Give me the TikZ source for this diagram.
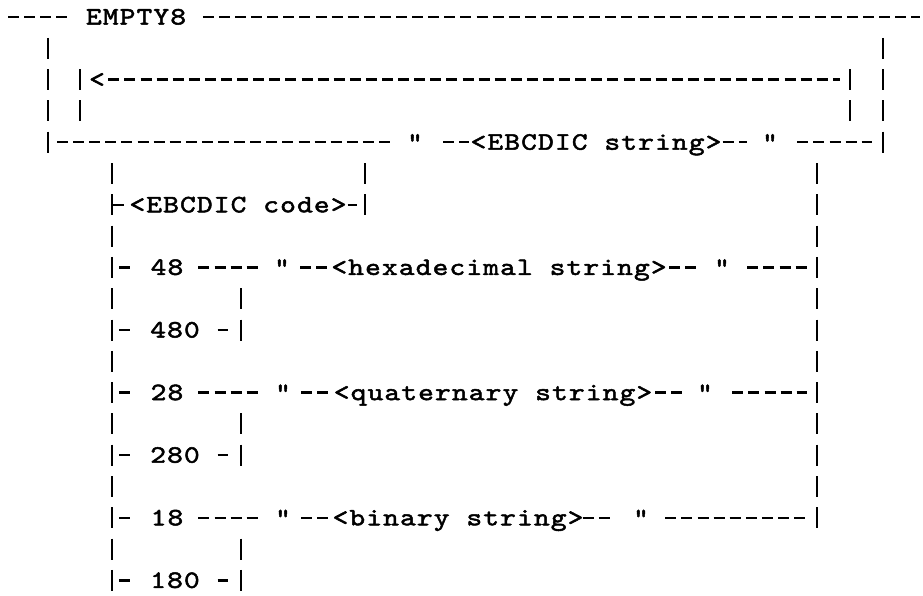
\documentclass[tikz,border=0pt]{standalone}
\usepackage{fontspec}
\newfontfamily\typer{lmmono10-regular.otf}[FakeStretch=1.2,LetterSpace=4.5,FakeBold=2]

\begin{document}
\begin{tikzpicture}[x=1pt,y=-31.3pt,font={\typer\fontsize{25pt}{25pt}\selectfont},
  every node/.style={inner sep=0pt,text height=15pt,text depth=0pt},
  chars/.style={minimum width=#1*16.2pt,
    execute at begin node={\hbox to 0pt\bgroup\hss},execute at end node={\hss\egroup}}]
  \useasboundingbox (0,-0.5431) rectangle (923,18.4665);
  \coordinate (tw)  at (8,0);   \coordinate (te)  at (920,0);
  \coordinate (a1)  at (48,1);  \coordinate (a4)  at (48,4);
  \coordinate (b2)  at (80,2);  \coordinate (b3)  at (80,3);
  \coordinate (c2)  at (850,2); \coordinate (c3)  at (850,3);
  \coordinate (d1)  at (883,1); \coordinate (d4)  at (883,4);
  \coordinate (e5)  at (365,5); \coordinate (e6)  at (365,6);
  \foreach \r in {5,6,8,10,12,14,16,18} \coordinate (m\r) at (112,\r);
  \foreach \r in {5,8,12,16} \coordinate (r\r) at (817,\r);
  \foreach \r in {9,10,13,14,17,18} \coordinate (s\r) at (241,\r);
  \node[chars=6]  (empty) at (136,0)   {EMPTY8};
  \node[chars=1]  (back)  at (97,2)    {<};
  \node[chars=1]  (q1)    at (415,4)   {"};
  \node[chars=15] (ebs)   at (596,4)   {<EBCDIC string>};
  \node[chars=1]  (q2)    at (770,4)   {"};
  \node[chars=13] (code)  at (238,6)   {<EBCDIC code>};
  \node[chars=2]  (n48)   at (167,8)   {48};
  \node[chars=1]  (q3)    at (282,8)   {"};
  \node[chars=20] (hex)   at (499,8)   {<hexadecimal string>};
  \node[chars=1]  (q4)    at (722,8)   {"};
  \node[chars=3]  (n480)  at (175,10)  {480};
  \node[chars=2]  (n28)   at (167,12)  {28};
  \node[chars=1]  (q5)    at (283,12)  {"};
  \node[chars=19] (quat)  at (493,12)  {<quaternary string>};
  \node[chars=1]  (q6)    at (705,12)  {"};
  \node[chars=3]  (n280)  at (175,14)  {280};
  \node[chars=2]  (n18)   at (167,16)  {18};
  \node[chars=1]  (q7)    at (283,16)  {"};
  \node[chars=15] (bin)   at (458,16)  {<binary string>};
  \node[chars=1]  (q8)    at (641,16)  {"};
  \node[chars=3]  (n180)  at (175,18)  {180};
\tikzset{bar/.style={line width=2.3pt,dash pattern=on 21pt off 10.3pt,shorten <=-10.5pt,shorten >=-10.5pt}}
\path
      (a1)  edge [bar] (a4)
      (b2)  edge [bar] (b3)
      (c2)  edge [bar] (c3)
      (d1)  edge [bar] (d4)
      (m5)  edge [bar] (m18)
      (e5)  edge [bar] (e6)
      (r5)  edge [bar] (r16);
\tikzset{bar/.append style={line width=1.4pt}}
\path
      (s9)  edge [bar] (s10)
      (s13) edge [bar] (s14)
      (s17) edge [bar] (s18);
\tikzset{rule/.style={line width=2.4pt,dash pattern=on 11pt off 5.1pt}}
\path
      (tw)    edge [rule,shorten >=19pt]                 (empty)
      (empty) edge [rule,shorten <=18pt]                 (te)
      (back)  edge [rule,shorten <=3pt,shorten >=10pt]   (c2)
      (a4)    edge [rule,shorten <=9pt,shorten >=17pt]   (q1)
      (q1)    edge [rule,shorten <=20pt,shorten >=5pt]   (ebs)
      (ebs)   edge [rule,shorten <=5pt,shorten >=15pt]   (q2)
      (q2)    edge [rule,shorten <=19pt,shorten >=11pt]  (d4)
      (m6)    edge [rule,shorten <=1pt,shorten >=6pt]    (code)
      (code)  edge [rule,shorten <=4pt,shorten >=8pt]    (e6);
\path
      (m8)    edge [rule,shorten <=7pt,shorten >=19pt]   (n48)
      (n48)   edge [rule,shorten <=15pt,shorten >=15pt]  (q3)
      (q3)    edge [rule,shorten <=10pt,shorten >=7pt]   (hex)
      (hex)   edge [rule,shorten <=8pt,shorten >=13pt]   (q4)
      (q4)    edge [rule,shorten <=17pt,shorten >=10pt]  (r8)
      (m10)   edge [rule,shorten <=7pt,shorten >=19pt]   (n480)
      (n480)  edge [rule,shorten <=18pt,shorten >=13pt]  (s10)
      (m12)   edge [rule,shorten <=7pt,shorten >=19pt]   (n28)
      (n28)   edge [rule,shorten <=15pt,shorten >=15pt]  (q5)
      (q5)    edge [rule,shorten <=10pt,shorten >=7pt]   (quat)
      (quat)  edge [rule,shorten <=8pt,shorten >=13pt]   (q6)
      (q6)    edge [rule,shorten <=19pt,shorten >=10pt]  (r12)
      (m14)   edge [rule,shorten <=7pt,shorten >=19pt]   (n280)
      (n280)  edge [rule,shorten <=18pt,shorten >=13pt]  (s14)
      (m16)   edge [rule,shorten <=7pt,shorten >=19pt]   (n18)
      (n18)   edge [rule,shorten <=15pt,shorten >=15pt]  (q7)
      (q7)    edge [rule,shorten <=10pt,shorten >=4pt]   (bin)
      (bin)   edge [rule,shorten <=3pt,shorten >=19pt]   (q8)
      (q8)    edge [rule,shorten <=16pt,shorten >=10pt]  (r16)
      (m18)   edge [rule,shorten <=7pt,shorten >=19pt]   (n180)
      (n180)  edge [rule,shorten <=18pt,shorten >=13pt]  (s18);
\end{tikzpicture}
\end{document}
